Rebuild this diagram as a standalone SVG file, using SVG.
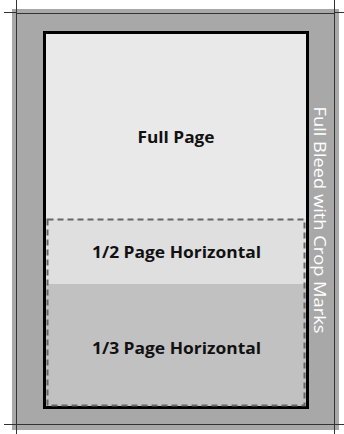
<svg xmlns="http://www.w3.org/2000/svg" width="344" height="434" viewBox="0 0 344 434">
<style>
.crop{stroke:#333;stroke-width:1;fill:none}
.lbl{font-family:"Open Sans","Noto Sans",sans-serif;font-weight:bold;font-size:16px;fill:#111;text-anchor:middle}
.side{font-family:"Open Sans","Noto Sans",sans-serif;font-size:17px;fill:#fff;text-anchor:middle}
</style>
<rect width="344" height="434" fill="#fff"/>
<g id="bleed">
<rect x="12" y="9" width="327" height="421" fill="#a8a8a8"/>
<rect x="16.5" y="13.5" width="318" height="411" class="crop"/>
</g>
<g id="crop-marks">
<path class="crop" d="M16.5 0V13.5M4 12.5H16.5M334.5 0V13.5M334.5 12.5H344M16.5 425V434M4 424.5H16.5M334.5 425V434M334.5 424.5H344"/>
</g>
<g id="full-page">
<rect x="44.5" y="32.5" width="263" height="375" fill="#e9e9e9"/>
<text class="lbl" x="176" y="143" textLength="77" lengthAdjust="spacingAndGlyphs">Full Page</text>
</g>
<g id="half-page">
<rect x="46" y="219" width="260" height="188" fill="#dfdfe0"/>
<text class="lbl" x="176.5" y="258" textLength="169" lengthAdjust="spacingAndGlyphs">1/2 Page Horizontal</text>
</g>
<g id="third-page">
<rect x="46" y="284" width="260" height="123" fill="#c1c1c2"/>
<text class="lbl" x="176.5" y="354" textLength="169" lengthAdjust="spacingAndGlyphs">1/3 Page Horizontal</text>
</g>
<g id="borders">
<rect x="44.5" y="32.5" width="263" height="375" fill="none" stroke="#000" stroke-width="3"/>
<rect x="47.5" y="219.5" width="257" height="186" fill="none" stroke="#666" stroke-width="2" stroke-dasharray="6,4"/>
</g>
<g id="side-label">
<text class="side" transform="translate(314,220) rotate(90)" textLength="227" lengthAdjust="spacingAndGlyphs">Full Bleed with Crop Marks</text>
</g>
</svg>
